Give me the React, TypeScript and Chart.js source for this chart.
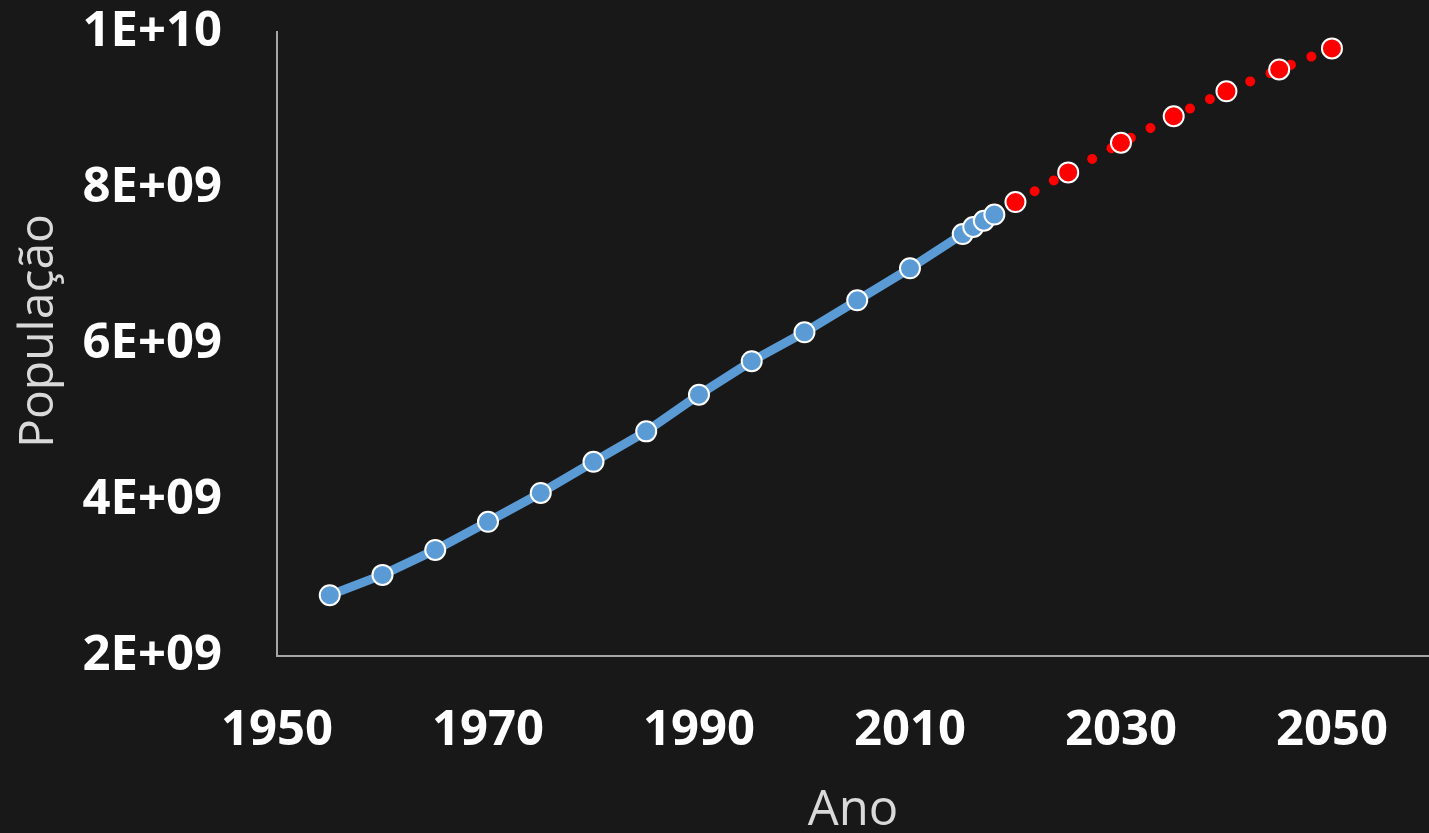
import React, { useEffect, useRef } from "react";
import { Chart, registerables } from "chart.js";

Chart.register(...registerables);

const histYears = [1955, 1960, 1965, 1970, 1975, 1980, 1985, 1990, 1995, 2000, 2005, 2010, 2015, 2016, 2017, 2018];
const histPop = [2.78e9, 3.04e9, 3.36e9, 3.72e9, 4.09e9, 4.49e9, 4.88e9, 5.35e9, 5.78e9, 6.15e9, 6.56e9, 6.97e9, 7.41e9, 7.50e9, 7.58e9, 7.66e9];

const projYears = [2020, 2025, 2030, 2035, 2040, 2045, 2050];
const projPop = [7.82e9, 8.20e9, 8.58e9, 8.92e9, 9.24e9, 9.52e9, 9.79e9];

const xTickValues = [1950, 1970, 1990, 2010, 2030, 2050];
const yTickValues = [2e9, 4e9, 6e9, 8e9, 1e10];
const yTickLabels = ["2E+09", "4E+09", "6E+09", "8E+09", "1E+10"];

const xAxisTitle = "Ano";
const yAxisTitle = "População";

const BG = "#181818";
const TITLE_COLOR = "#d9d9d9";

const yTitlePlugin = {
  id: "yTitlePlugin",
  afterDraw(chart: any) {
    const ctx = chart.ctx;
    const area = chart.chartArea;
    ctx.save();
    ctx.translate(53, (area.top + area.bottom) / 2 - 13);
    ctx.rotate(-Math.PI / 2);
    ctx.fillStyle = TITLE_COLOR;
    ctx.font = "normal 48px 'Open Sans'";
    ctx.textAlign = "center";
    ctx.textBaseline = "alphabetic";
    ctx.fillText(yAxisTitle, 0, 0);
    ctx.restore();
  },
};

export default function App() {
  const ref = useRef<HTMLCanvasElement | null>(null);

  useEffect(() => {
    document.body.style.margin = "0";
    document.body.style.overflow = "hidden";
    document.body.style.background = BG;
    const canvas = ref.current;
    if (!canvas) return;

    const chart = new Chart(canvas, {
      type: "line",
      data: {
        datasets: [
          {
            label: "Histórico",
            data: histYears.map((x, i) => ({ x, y: histPop[i] })),
            borderColor: "#5b9bd5",
            borderWidth: 9,
            backgroundColor: "#5b9bd5",
            pointBackgroundColor: "#5b9bd5",
            pointBorderColor: "#ffffff",
            pointBorderWidth: 2,
            pointRadius: 10,
            borderJoinStyle: "round",
            borderCapStyle: "round",
            tension: 0,
          },
          {
            label: "Projeção",
            data: projYears.map((x, i) => ({ x, y: projPop[i] })),
            borderColor: "#ff0000",
            borderWidth: 10,
            borderDash: [0.01, 22],
            borderCapStyle: "round",
            backgroundColor: "#ff0000",
            pointBackgroundColor: "#ff0000",
            pointBorderColor: "#ffffff",
            pointBorderWidth: 2,
            pointRadius: 10,
            tension: 0,
          },
        ],
      },
      plugins: [yTitlePlugin],
      options: {
        animation: false,
        responsive: true,
        maintainAspectRatio: false,
        layout: { autoPadding: false, padding: { top: 32, left: 0, right: 0, bottom: 0 } },
        plugins: {
          legend: { display: false },
          tooltip: { enabled: false },
        },
        scales: {
          x: {
            type: "linear",
            min: 1950,
            max: 2059.2,
            grid: { display: false, drawTicks: false },
            border: { display: true, color: "#a6a6a6", width: 2 },
            afterFit: (s: any) => {
              s.height = 177;
              s.paddingLeft = 0;
              s.paddingRight = 0;
            },
            afterBuildTicks: (s: any) => {
              s.ticks = xTickValues.map((value) => ({ value }));
            },
            ticks: {
              padding: 46,
              color: "#ffffff",
              maxRotation: 0,
              autoSkip: false,
              font: { family: "'Open Sans'", size: 49, weight: "bold" },
              callback: (v: any) => String(v),
            },
            title: {
              display: true,
              text: xAxisTitle,
              color: TITLE_COLOR,
              font: { family: "'Open Sans'", size: 49, weight: "normal", lineHeight: 0.9 },
              padding: { top: 0, bottom: 0 },
            },
          },
          y: {
            type: "linear",
            min: 2e9,
            max: 1e10,
            grid: { display: false, drawTicks: false },
            border: { display: true, color: "#a6a6a6", width: 2 },
            afterFit: (s: any) => {
              s.width = 277;
              s.paddingTop = 0;
              s.paddingBottom = 0;
            },
            afterBuildTicks: (s: any) => {
              s.ticks = yTickValues.map((value) => ({ value }));
            },
            ticks: {
              padding: 55,
              color: "#ffffff",
              font: { family: "'Open Sans'", size: 49, weight: "bold" },
              callback: (v: any) => {
                const idx = yTickValues.indexOf(Number(v));
                return idx >= 0 ? yTickLabels[idx] : "";
              },
            },
            title: { display: false },
          },
        },
      },
    });
    return () => chart.destroy();
  }, []);

  return (
    <div style={{ width: 1429, height: 833, background: BG, position: "relative" }}>
      <canvas ref={ref} />
    </div>
  );
}
